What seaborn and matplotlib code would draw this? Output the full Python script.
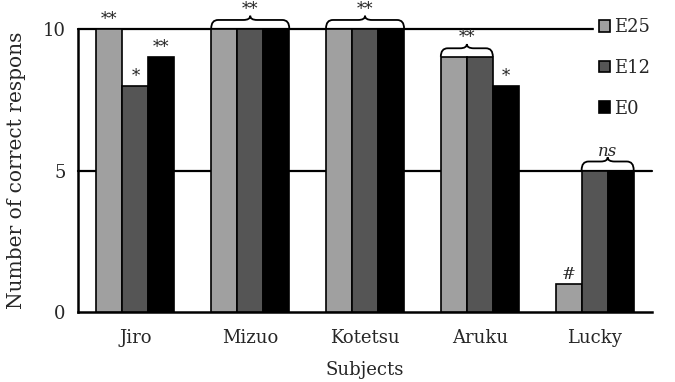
import matplotlib
matplotlib.use("Agg")
import matplotlib.pyplot as plt
from matplotlib.path import Path
from matplotlib.patches import PathPatch
import seaborn as sns
import pandas as pd

subjects = ["Jiro", "Mizuo", "Kotetsu", "Aruku", "Lucky"]
conditions = ["E25", "E12", "E0"]
e25 = [10, 10, 10, 9, 1]
e12 = [8, 10, 10, 9, 5]
e0 = [9, 10, 10, 8, 5]

# single-bar marks: (subject index, condition index, text)
bar_marks = [(0, 0, "**"), (0, 1, "*"), (0, 2, "**"), (3, 2, "*"), (4, 0, "#")]
# bracketed marks: (subject index, first condition, last condition, text, italic)
brace_marks = [(1, 0, 2, "**", False), (2, 0, 2, "**", False),
               (3, 0, 1, "**", False), (4, 1, 2, "ns", True)]

df = pd.DataFrame({
    "Subject": subjects * 3,
    "Condition": [c for c in conditions for _ in subjects],
    "Correct": e25 + e12 + e0,
})

sns.set_theme(style="white")
plt.rcParams["font.family"] = ["DejaVu Serif"]
plt.rcParams["mathtext.fontset"] = "dejavuserif"

fig = plt.figure(figsize=(6.75, 3.82), dpi=100)
ax = fig.add_axes([0.1156, 0.183, 0.8504, 0.741])

palette = ["#a0a0a0", "#555555", "#000000"]
sns.barplot(data=df, x="Subject", y="Correct", hue="Condition",
            order=subjects, hue_order=conditions, palette=palette,
            width=0.68, edgecolor="black", linewidth=1.2,
            saturation=1, ax=ax, legend=True, zorder=3)

ax.set_xlim(-0.5, len(subjects) - 0.5)
ax.set_ylim(0, 10)
ax.set_yticks([0, 5, 10])
ax.tick_params(axis="y", length=0, labelsize=13, pad=9)
ax.tick_params(axis="x", which="major", length=0, labelsize=13, pad=12)
ax.set_xticks([i + 0.5 for i in range(len(subjects))], minor=True)
ax.tick_params(axis="x", which="minor", direction="in", length=5,
               width=1.5, color="black")

for y in (5, 10):
    ax.axhline(y, color="black", linewidth=1.6, zorder=1, clip_on=False)

for side in ("top", "right"):
    ax.spines[side].set_visible(False)
for side in ("left", "bottom"):
    ax.spines[side].set_color("black")
    ax.spines[side].set_linewidth(1.8)

ax.set_xlabel("Subjects", fontsize=13, labelpad=10)
ax.set_ylabel("Number of correct respons", fontsize=14.5, labelpad=12)

containers = ax.containers


def bar_geom(si, ci):
    rect = containers[ci][si]
    return rect.get_x(), rect.get_x() + rect.get_width(), rect.get_height()


for si, ci, txt in bar_marks:
    x0, x1, h = bar_geom(si, ci)
    ax.text((x0 + x1) / 2, h + 0.03, txt, ha="center", va="bottom",
            fontsize=12 if txt != "#" else 12, clip_on=False, zorder=5)


def draw_brace(x0, x1, y, h=0.32, tip=0.15, r=0.06):
    xc = (x0 + x1) / 2
    top = y + h
    verts = [(x0, y + 0.02), (x0, top), (x0 + r, top),
             (xc - r, top), (xc, top), (xc, top + tip),
             (xc, top), (xc + r, top),
             (x1 - r, top), (x1, top), (x1, y + 0.02)]
    codes = [Path.MOVETO, Path.CURVE3, Path.CURVE3,
             Path.LINETO, Path.CURVE3, Path.CURVE3,
             Path.CURVE3, Path.CURVE3,
             Path.LINETO, Path.CURVE3, Path.CURVE3]
    ax.add_patch(PathPatch(Path(verts, codes), facecolor="none",
                           edgecolor="black", linewidth=1.3,
                           clip_on=False, zorder=5))
    return xc, top + tip


for si, c0, c1, txt, italic in brace_marks:
    x0, _, h0 = bar_geom(si, c0)
    _, x1, h1 = bar_geom(si, c1)
    xc, ytop = draw_brace(x0, x1, max(h0, h1))
    ax.text(xc, ytop - 0.08, txt, ha="center", va="bottom",
            fontsize=12,
            style="italic" if italic else "normal", clip_on=False, zorder=5)

handles, labels = ax.get_legend_handles_labels()
ax.get_legend().remove()
leg = fig.legend(handles, labels, loc="upper left",
                 bbox_to_anchor=(594 / 675, 1 - 13 / 382),
                 frameon=True, facecolor="white", edgecolor="white",
                 framealpha=1, fontsize=13, handlelength=0.6,
                 handleheight=0.6, handletextpad=0.2, labelspacing=1.25,
                 borderpad=0.3, borderaxespad=0)
for p in leg.get_patches():
    p.set_edgecolor("black")
    p.set_linewidth(1.2)

fig.savefig("out.png", dpi=100)
